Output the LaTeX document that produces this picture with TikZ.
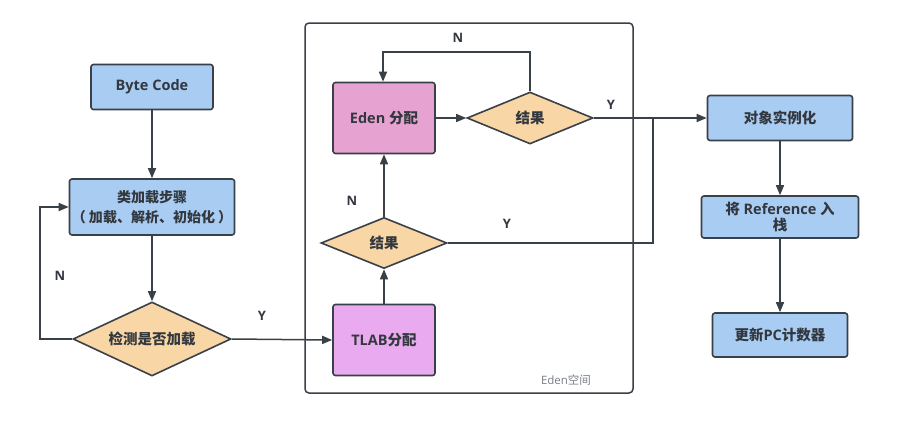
\documentclass[tikz,border=0pt]{standalone}
\usepackage{fontspec}
\setmainfont{Open Sans}
\newfontfamily\cjk{Noto Sans CJK SC}
\usetikzlibrary{shapes.geometric,arrows.meta}
\definecolor{bluefill}{HTML}{A9CCF2}
\definecolor{edenfill}{HTML}{E6A3D1}
\definecolor{tlabfill}{HTML}{E9AAF0}
\definecolor{diafill}{HTML}{F8D6A6}
\definecolor{edge}{HTML}{3A4048}
\definecolor{txt}{HTML}{33383F}
\definecolor{lbl}{HTML}{7A7F86}
\begin{document}
\begin{tikzpicture}[x=1pt,y=-1pt,
  box/.style={draw=edge, line width=1.6pt, rounded corners=2.5pt, inner sep=0pt, align=center,
    font=\fontsize{14.5}{18}\selectfont\bfseries, text=txt},
  bluebox/.style={box, fill=bluefill},
  dia/.style={diamond, draw=edge, line width=1.6pt, fill=diafill, inner sep=0pt, aspect=2.4,
    font=\fontsize{14.5}{16}\selectfont\bfseries\cjk, text=txt},
  conn/.style={draw=edge, line width=1.5pt},
  arr/.style={conn, -{Triangle[length=10pt,width=8pt]}},
  yn/.style={font=\fontsize{13}{16}\selectfont\bfseries, text=txt, inner sep=0pt}]
\useasboundingbox[fill=white] (0,0) rectangle (924,423);

% Eden container
\node[draw=edge, line width=1.5pt, rounded corners=4pt, minimum width=328pt, minimum height=370pt, inner sep=0pt] (edenarea) at (469,208) {};
\node[font=\fontsize{11.5}{13}\selectfont, text=lbl, inner sep=0pt] (edenlbl) at (566,380) {Eden{\cjk 空间}};

% left column
\node[bluebox, minimum width=122pt, minimum height=45pt] (bc) at (152,87) {Byte Code};
\node[bluebox, minimum width=165pt, minimum height=56pt, font=\fontsize{14}{20}\selectfont\bfseries\cjk] (cls) at (152,207) {类加载步骤\\（ 加载、解析、初始化 ）};
\node[dia, minimum width=158pt, minimum height=74pt] (chk) at (152,339) {检测是否加载};

% Eden space
\node[box, fill=edenfill, minimum width=102pt, minimum height=71pt] (eden) at (384,118) {Eden {\cjk 分配}};
\node[dia, minimum width=126pt, minimum height=52pt] (r1) at (530,118) {结果};
\node[dia, minimum width=126pt, minimum height=51pt] (r2) at (384,243) {结果};
\node[box, fill=tlabfill, minimum width=102pt, minimum height=71pt] (tlab) at (384,340) {TLAB{\cjk 分配}};

% right column
\node[bluebox, minimum width=145pt, minimum height=45pt, font=\fontsize{14.5}{18}\selectfont\bfseries\cjk] (obj) at (780,118) {对象实例化};
\node[bluebox, minimum width=157pt, minimum height=42pt, font=\fontsize{14.5}{16}\selectfont\bfseries] (ref) at (780,217) {{\cjk 将} Reference {\cjk 入}\\{\cjk 栈}};
\node[bluebox, minimum width=135pt, minimum height=44pt] (pc) at (780,335) {{\cjk 更新}PC{\cjk 计数器}};

\coordinate (nloopL) at (40,339);
\coordinate (nloopT) at (40,207);
\coordinate (r1top) at (530,52);
\coordinate (edtop) at (383,52);
\coordinate (jn) at (653,243);
\coordinate (jt) at (653,118);

% connectors
\draw[arr] (bc) -- (cls);
\draw[arr] (cls) -- (chk);
\draw[arr] (chk.west) -- (nloopL) -- (nloopT) -- (cls.west);
\draw[arr] (chk.east) -- (tlab.west);
\draw[arr] (tlab) -- (r2);
\draw[arr] (r2) -- (eden);
\draw[arr] (eden) -- (r1);
\draw[arr] (r1.north) -- (r1top) -- (edtop) -- (eden.north -| edtop);
\draw[arr] (r1.east) -- (obj.west);
\draw[conn] (r2.east) -- (jn) -- (jt);
\draw[arr] (obj) -- (ref);
\draw[arr] (ref) -- (pc);

% labels
\node[yn] (ln1) at (60,276) {N};
\node[yn] (ly1) at (262,316) {Y};
\node[yn] (ln2) at (458,38) {N};
\node[yn] (ly2) at (611,105) {Y};
\node[yn] (ln3) at (352,201) {N};
\node[yn] (ly3) at (507,224) {Y};
\end{tikzpicture}
\end{document}
